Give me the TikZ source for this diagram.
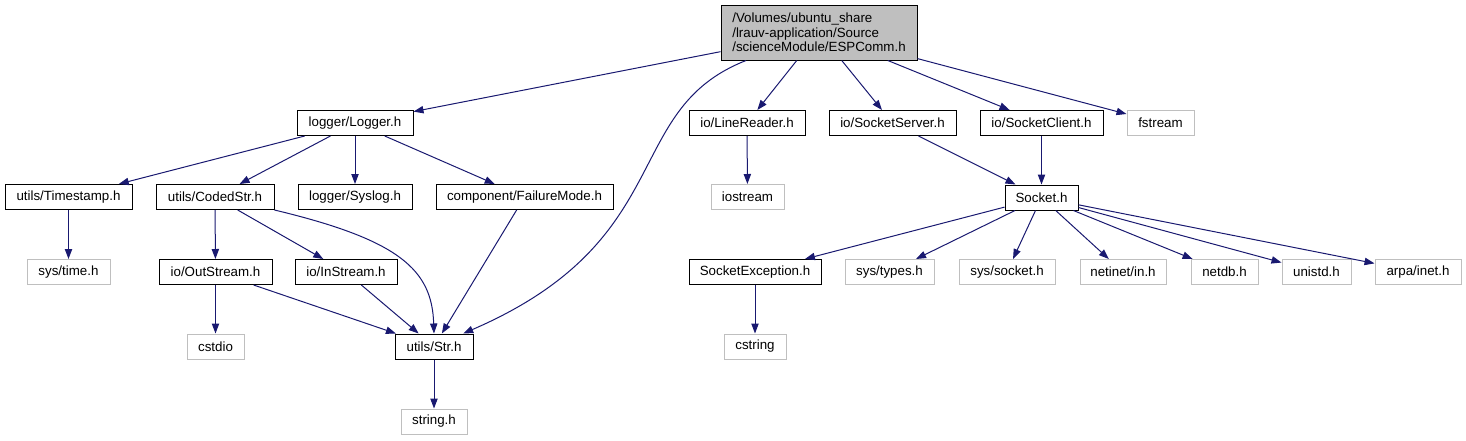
\documentclass[tikz,border=0pt]{standalone}
\usepackage{fontspec}
\setmainfont{Liberation Sans}
\usetikzlibrary{arrows.meta}
\definecolor{edgeblue}{HTML}{191970}
\definecolor{extgray}{HTML}{BFBFBF}
\begin{document}
\begin{tikzpicture}[x=0.75pt,y=-0.75pt,
  box/.style={draw=black, line width=0.75pt, inner sep=0pt, minimum height=18.75pt, font=\fontsize{10}{11}\selectfont},
  ext/.style={box, draw=extgray},
  dep/.style={draw=edgeblue, line width=0.75pt, -{Triangle[length=7.5pt,width=5.5pt]}}]
\useasboundingbox (0,0) rectangle (1466,440);
% nodes
\node[box, fill=extgray, minimum width=147pt, minimum height=41.25pt, align=left] (root) at (819,32.5)
  {/Volumes/ubuntu\_share\\/lrauv-application/Source\\/scienceModule/ESPComm.h};
\node[box, minimum width=87pt] (logger) at (355,123) {logger/Logger.h};
\node[box, minimum width=87pt] (linereader) at (747,123) {io/LineReader.h};
\node[box, minimum width=95.25pt] (sockserver) at (892.5,123) {io/SocketServer.h};
\node[box, minimum width=92.25pt] (sockclient) at (1041.5,123) {io/SocketClient.h};
\node[ext, minimum width=50.25pt] (fstream) at (1160.5,123) {fstream};

\node[box, minimum width=95.25pt] (timestamp) at (68.5,197) {utils/Timestamp.h};
\node[box, minimum width=88.5pt] (codedstr) at (215,197) {utils/CodedStr.h};
\node[box, minimum width=85.5pt] (syslog) at (355,197) {logger/Syslog.h};
\node[box, minimum width=132.75pt] (failure) at (524.5,197) {component/FailureMode.h};
\node[ext, minimum width=54.75pt] (iostream) at (747.5,197) {iostream};
\node[box, minimum width=54.75pt] (socket) at (1041.5,197.5) {Socket.h};

\node[ext, minimum width=62.25pt] (systime) at (68.5,272) {sys/time.h};
\node[box, minimum width=84.75pt] (outstream) at (215.5,272) {io/OutStream.h};
\node[box, minimum width=76.5pt] (instream) at (346,272) {io/InStream.h};
\node[box, minimum width=99pt] (sockexc) at (755,272) {SocketException.h};
\node[ext, minimum width=66.75pt] (systypes) at (889.5,272) {sys/types.h};
\node[ext, minimum width=72pt] (syssocket) at (1007,272) {sys/socket.h};
\node[ext, minimum width=64.5pt] (netinet) at (1123,272) {netinet/in.h};
\node[ext, minimum width=50.25pt] (netdb) at (1224.5,272) {netdb.h};
\node[ext, minimum width=51.75pt] (unistd) at (1316.5,272) {unistd.h};
\node[ext, minimum width=64.5pt] (arpainet) at (1418,272) {arpa/inet.h};

\node[ext, minimum width=42.75pt] (cstdio) at (215.5,346.5) {cstdio};
\node[box, minimum width=58.5pt] (str) at (434,346.5) {utils/Str.h};
\node[ext, minimum width=46.5pt] (cstring) at (755,346.5) {cstring};

\node[ext, minimum width=49.5pt] (stringh) at (434,421.5) {string.h};

% edges
\draw[dep] (root) -- (logger);
\draw[dep] (root.201) .. controls (620,110) and (680,240) .. (str.24);
\draw[dep] (root) -- (linereader);
\draw[dep] (root) -- (sockserver);
\draw[dep] (root) -- (sockclient);
\draw[dep] (root) -- (fstream);

\draw[dep] (logger) -- (timestamp);
\draw[dep] (logger) -- (codedstr);
\draw[dep] (logger) -- (syslog);
\draw[dep] (logger) -- (failure);

\draw[dep] (timestamp) -- (systime);
\draw[dep] (codedstr) -- (outstream);
\draw[dep] (codedstr) -- (instream);
\draw[dep] (codedstr.south east) .. controls (400,240) and (432,270) .. (str.north);
\draw[dep] (failure) -- (str);
\draw[dep] (outstream) -- (cstdio);
\draw[dep] (outstream) -- (str);
\draw[dep] (instream) -- (str);
\draw[dep] (str) -- (stringh);

\draw[dep] (linereader) -- (iostream);
\draw[dep] (sockserver) -- (socket);
\draw[dep] (sockclient) -- (socket);

\draw[dep] (socket) -- (sockexc);
\draw[dep] (socket) -- (systypes);
\draw[dep] (socket) -- (syssocket);
\draw[dep] (socket) -- (netinet);
\draw[dep] (socket) -- (netdb);
\draw[dep] (socket) -- (unistd);
\draw[dep] (socket) -- (arpainet);
\draw[dep] (sockexc) -- (cstring);
\end{tikzpicture}
\end{document}
